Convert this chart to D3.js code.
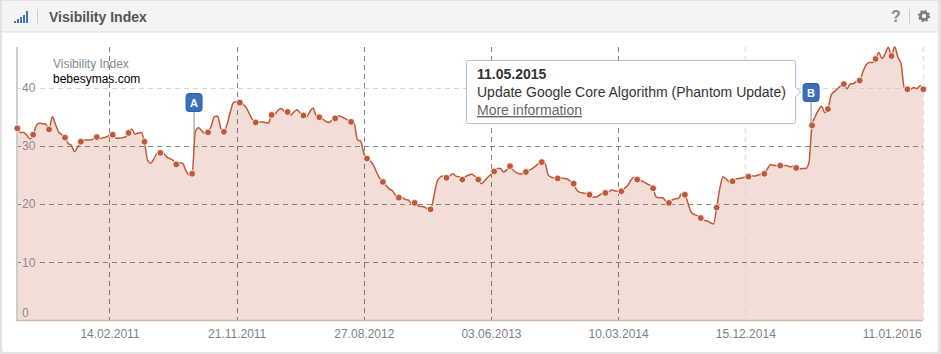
<!DOCTYPE html>
<html><head><meta charset="utf-8">
<script src="https://cdn.jsdelivr.net/npm/d3@7"></script>
<style>
html,body{margin:0;padding:0;background:#e3e3e3;overflow:hidden}
svg{display:block}
text{font-family:"Liberation Sans",Arial,sans-serif}
</style></head><body><div id="c"></div>
<script>
const chartTitle = "Visibility Index";
const legendLabel = "Visibility Index";
const domainLabel = "bebesymas.com";
const firstWeek = "2010-07-26";
// weekly visibility values
const values = [
33.0,32.3,32.3,31.8,31.2,31.9,33.5,33.9,33.8,33.7,
32.8,35.0,33.7,32.4,31.9,31.4,30.4,30.1,29.0,29.8,
30.7,31.0,31.0,31.0,31.2,31.5,31.2,31.4,31.5,31.8,
31.9,31.3,31.3,31.4,31.5,32.2,32.9,32.0,32.2,32.3,
30.7,27.5,27.0,27.8,28.7,28.8,28.7,28.1,27.8,27.5,
26.8,27.1,27.0,25.8,25.0,25.2,32.4,33.1,32.6,32.1,
32.3,33.4,35.0,35.1,33.0,32.4,33.7,35.8,37.4,37.6,
37.4,37.1,36.6,35.5,34.5,34.0,34.1,34.1,34.0,33.9,
35.3,35.4,36.1,36.4,35.9,35.8,35.3,35.8,36.2,35.6,
35.2,35.0,35.8,36.5,35.2,34.9,34.6,34.2,34.0,34.4,
34.7,35.1,35.0,34.7,34.4,34.1,33.8,31.0,30.8,28.7,
27.8,27.4,26.7,25.5,24.4,23.8,23.2,22.6,22.3,21.5,
21.1,21.1,20.8,20.7,20.1,20.2,19.7,19.6,19.5,19.2,
19.1,21.2,23.8,24.6,24.8,24.5,24.8,25.2,24.8,24.7,
24.2,24.7,25.0,25.1,24.7,24.2,23.5,24.0,24.6,25.1,
25.6,26.1,26.1,25.5,25.9,26.5,25.8,25.4,25.2,25.2,
25.5,25.8,26.1,26.5,27.0,27.2,27.0,25.0,24.6,24.5,
24.4,24.5,24.4,24.3,23.9,23.5,22.4,22.0,21.9,21.8,
21.6,21.2,21.2,21.5,21.8,21.9,22.1,22.4,22.3,22.2,
22.2,22.7,23.2,24.1,24.6,24.2,24.1,23.8,23.5,23.2,
22.7,21.2,21.1,21.1,20.5,20.2,20.7,20.9,21.0,21.8,
21.6,20.1,18.6,18.2,18.0,17.6,17.2,17.1,16.8,16.6,
19.4,22.7,24.7,24.3,23.8,23.9,24.3,24.4,24.5,24.6,
24.7,24.8,24.8,25.0,25.1,25.2,26.1,26.8,26.6,26.6,
26.6,26.6,26.6,26.4,26.5,26.2,26.0,26.1,26.1,27.0,
33.5,35.0,36.1,36.8,35.7,36.3,38.7,39.3,39.8,40.3,
40.6,39.8,40.6,40.7,41.0,41.2,42.7,43.9,44.3,44.3,
44.9,46.0,45.0,45.8,46.9,45.4,47.0,45.2,44.1,40.0,
39.7,39.7,40.0,39.8,40.3,39.7];
const dotEvery = 5;
const xTickDates = ["2011-02-14","2011-11-21","2012-08-27","2013-06-03","2014-03-10","2014-12-15","2016-01-11"];
const paleXTicks = ["2014-12-15","2016-01-11"];
const yTicks = [0,10,20,30,40];
const paleYTicks = [40];
const flagLabels = ["A","B"];
const flagWeeks = [55.6,249.7];
const flagValues = [31,33.5];
const calloutDate = "11.05.2015";
const calloutText = "Update Google Core Algorithm (Phantom Update)";
const calloutLink = "More information";

const W=941,H=354;
const parse=d3.utcParse("%Y-%m-%d"), fmt=d3.utcFormat("%d.%m.%Y");
const start=parse(firstWeek);
const data=values.map((v,i)=>({date:d3.utcDay.offset(start,i*7),v,i}));
const x=d3.scaleUtc().domain([start,data[data.length-1].date]).range([17.3,923.3]);
const y=d3.scaleLinear().domain([0,47.3]).range([320.6,45]);
const svg=d3.select("#c").append("svg").attr("width",W).attr("height",H);

// card
svg.append("rect").attr("x",2).attr("y",1).attr("width",936).attr("height",351).attr("rx",3).attr("fill","#fff");
svg.append("path").attr("d","M2,32V4a3,3 0 0 1 3,-3H935a3,3 0 0 1 3,3V32Z").attr("fill","#f4f4f4");
svg.append("line").attr("x1",2).attr("x2",938).attr("y1",32).attr("y2",32).attr("stroke","#ddd").attr("stroke-width",1);

// header
const bars=[2,4,6,8,12];
svg.append("g").selectAll("rect").data(bars).join("rect")
 .attr("x",(d,i)=>14+i*3).attr("y",d=>23-d).attr("width",2).attr("height",d=>d).attr("fill","#3f74c5");
svg.append("line").attr("x1",37.5).attr("x2",37.5).attr("y1",9).attr("y2",24).attr("stroke","#ccc");
svg.append("text").attr("x",49).attr("y",21.5).attr("font-size",14).attr("font-weight",700).attr("fill","#555").text(chartTitle);
svg.append("text").attr("x",896).attr("y",22).attr("text-anchor","middle").attr("font-size",16).attr("font-weight",700).attr("fill","#888").text("?");
svg.append("line").attr("x1",909.5).attr("x2",909.5).attr("y1",9).attr("y2",24).attr("stroke","#ccc");
svg.append("circle").attr("cx",924).attr("cy",16).attr("r",3.6).attr("fill","none").attr("stroke","#7c7c7c").attr("stroke-width",2.8);
svg.append("circle").attr("cx",924).attr("cy",16).attr("r",5.2).attr("fill","none").attr("stroke","#7c7c7c").attr("stroke-width",1.8).attr("stroke-dasharray","2.05 2.03");

// area
const curve=d3.curveMonotoneX;
svg.append("path").datum(data).attr("fill","#f2ded7")
 .attr("d",d3.area().x(d=>x(d.date)).y0(y(0)).y1(d=>y(d.v)).curve(curve));

// grid
const isPaleX=d=>paleXTicks.includes(d);
svg.append("g").selectAll("line").data(xTickDates).join("line")
 .attr("x1",d=>Math.round(x(parse(d)))+.5).attr("x2",d=>Math.round(x(parse(d)))+.5).attr("y1",47).attr("y2",320)
 .attr("stroke",d=>isPaleX(d)?"#d8d8d8":"#555").attr("stroke-opacity",d=>isPaleX(d)?.6:.75)
 .attr("stroke-width",d=>isPaleX(d)?2:1).attr("stroke-dasharray","5 4");
const gridY=yTicks.filter(d=>d>0);
const gy=svg.append("g").selectAll("g").data(gridY).join("g");
[[17,21],[40,923]].forEach(([a,b])=>{
 gy.append("line").attr("x1",a).attr("x2",b).attr("y1",d=>Math.round(y(d))+.5).attr("y2",d=>Math.round(y(d))+.5)
  .attr("stroke",d=>paleYTicks.includes(d)?"#ccc":"#555").attr("stroke-opacity",d=>paleYTicks.includes(d)?.8:.7)
  .attr("stroke-dasharray","5 4");
});

// axes
svg.append("line").attr("x1",17).attr("x2",17).attr("y1",47).attr("y2",321).attr("stroke","#ccc").attr("stroke-width",2);
svg.append("line").attr("x1",17).attr("x2",923).attr("y1",320.5).attr("y2",320.5).attr("stroke","#cdb9b2").attr("stroke-width",1.5);
const yAxis=svg.append("g").attr("transform","translate(17,0)")
 .call(d3.axisRight(y).tickValues(yTicks).tickSize(0).tickPadding(5));
yAxis.select(".domain").remove();
yAxis.selectAll("text").attr("font-size",12).attr("fill","#8a8a8a").attr("font-family",'"Liberation Sans",Arial,sans-serif')
 .attr("y",d=>d===0?-7.5:0);
const xAxis=svg.append("g").attr("transform","translate(0,321)")
 .call(d3.axisBottom(x).tickValues(xTickDates.map(parse)).tickFormat(fmt).tickSize(0).tickPadding(8));
xAxis.select(".domain").remove();
xAxis.selectAll("text").attr("font-size",12).attr("fill","#7f7f7f").attr("font-family",'"Liberation Sans",Arial,sans-serif')
 .attr("text-anchor",(d,i)=>i===xTickDates.length-1?"end":"middle")
 .attr("dx",(d,i)=>i===xTickDates.length-1?-2:0);

// legend
svg.append("text").attr("x",53).attr("y",67.5).attr("font-size",12).attr("fill","#808a90").text(legendLabel);
svg.append("text").attr("x",53).attr("y",83).attr("font-size",12).attr("fill","#000").text(domainLabel);

// line and dots
svg.append("path").datum(data).attr("fill","none").attr("stroke","#c0583a").attr("stroke-width",1.5)
 .attr("d",d3.line().x(d=>x(d.date)).y(d=>y(d.v)).curve(curve));
svg.append("g").selectAll("circle").data(data.filter(d=>d.i%dotEvery===0)).join("circle")
 .attr("cx",d=>x(d.date)).attr("cy",d=>y(d.v)).attr("r",3.4).attr("fill","#c0583a").attr("stroke","#fff").attr("stroke-width",.8);

// flags
const flagTop=[93,83];
flagLabels.forEach((t,i)=>{
 const fx=x(d3.utcHour.offset(start,Math.round(flagWeeks[i]*168)));
 svg.append("line").attr("x1",fx).attr("x2",fx).attr("y1",flagTop[i]+18).attr("y2",y(flagValues[i])).attr("stroke","#8a8a8a").attr("stroke-width",1);
 svg.append("rect").attr("x",fx-8).attr("y",flagTop[i]+.5).attr("width",16).attr("height",18).attr("rx",3)
  .attr("fill","#3b6fbd").attr("stroke","#2f5da6");
 svg.append("text").attr("x",fx).attr("y",flagTop[i]+14).attr("text-anchor","middle").attr("font-size",11).attr("font-weight",700).attr("fill","#fff").text(t);
});

// callout
svg.append("path").attr("d","M468.5,60.5H793.5a2,2 0 0 1 2,2V87l5,5l-5,5V121.5a2,2 0 0 1 -2,2H468.5a2,2 0 0 1 -2,-2V62.5a2,2 0 0 1 2,-2Z")
 .attr("fill","#fff").attr("stroke","#a9c1e6");
svg.append("text").attr("x",477).attr("y",79).attr("font-size",14).attr("font-weight",700).attr("fill","#333").text(calloutDate);
svg.append("text").attr("x",477).attr("y",97).attr("font-size",14).attr("fill","#333").text(calloutText);
svg.append("text").attr("x",477).attr("y",115).attr("font-size",14).attr("fill","#666").attr("text-decoration","underline").text(calloutLink);
</script></body></html>
